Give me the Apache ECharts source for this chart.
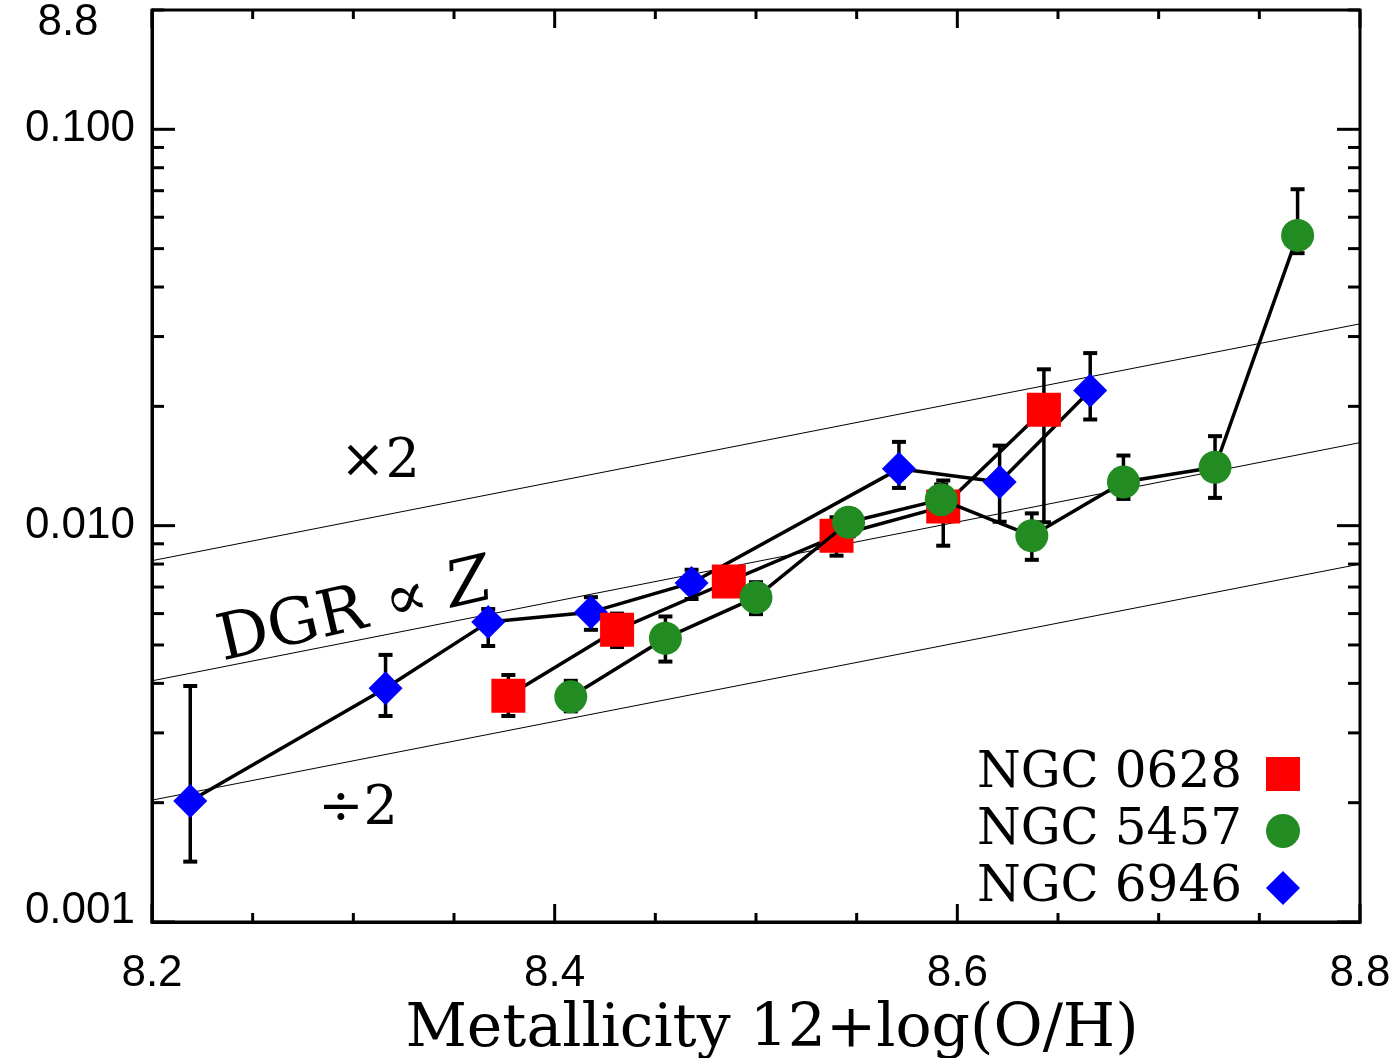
<!DOCTYPE html>
<html><head><meta charset="utf-8">
<script src="https://cdn.jsdelivr.net/npm/echarts@6/dist/echarts.min.js"></script>
<style>html,body{margin:0;padding:0;background:#fff}#c{width:1394px;height:1058px}</style>
</head><body><div id="c"></div>
<script>
// ---- data ----
const ngc0628X   = [8.377, 8.431, 8.4865, 8.540, 8.593, 8.643];
const ngc0628Y   = [0.00372, 0.00546, 0.00723, 0.00943, 0.01117, 0.0196];
const ngc0628Lo  = [0.00331, 0.00494, 0.0067, 0.0084, 0.0089, 0.0102];
const ngc0628Hi  = [0.0042, 0.0060, 0.0078, 0.0105, 0.0130, 0.0248];

const ngc5457X   = [8.408, 8.455, 8.500, 8.546, 8.592, 8.637, 8.6825, 8.728, 8.769];
const ngc5457Y   = [0.0037, 0.0052, 0.00659, 0.0102, 0.01163, 0.00943, 0.01288, 0.01404, 0.054];
const ngc5457Lo  = [0.0034, 0.00454, 0.00598, 0.0094, 0.0107, 0.0082, 0.01168, 0.01175, 0.0487];
const ngc5457Hi  = [0.00406, 0.0059, 0.0072, 0.0110, 0.0127, 0.01074, 0.01503, 0.01682, 0.0706];

const ngc6946X   = [8.219, 8.316, 8.367, 8.418, 8.468, 8.571, 8.621, 8.666];
const ngc6946Y   = [0.00202, 0.00389, 0.00571, 0.00605, 0.00717, 0.01391, 0.01289, 0.02192];
const ngc6946Lo  = [0.00142, 0.00331, 0.00497, 0.00546, 0.00653, 0.01245, 0.01023, 0.01853];
const ngc6946Hi  = [0.00394, 0.00472, 0.00616, 0.0066, 0.00774, 0.01627, 0.01592, 0.02725];

// reference lines (end points)
const refX     = [8.2, 8.8];
const refMid   = [0.00406, 0.0162];
const refUpper = [0.00816, 0.0323];
const refLower = [0.00203, 0.0080];

const seriesNames = ['NGC 0628', 'NGC 5457', 'NGC 6946'];
const xTickLabels = [8.2, 8.4, 8.6, 8.8];
const xMinorTicks = [8.25, 8.3, 8.35, 8.45, 8.5, 8.55, 8.65, 8.7, 8.75];
const yMajorTicks = [0.001, 0.01, 0.1];
const yMinorTicks = [0.002,0.003,0.004,0.005,0.006,0.007,0.008,0.009,
                     0.02,0.03,0.04,0.05,0.06,0.07,0.08,0.09,0.2];

// ---- helpers ----
const zip2 = (a, b) => a.map((v, i) => [v, b[i]]);
const zip3 = (a, b, c) => a.map((v, i) => [v, b[i], c[i]]);

function errRender(params, api) {
  const x = api.value(0), lo = api.value(1), hi = api.value(2);
  const p1 = api.coord([x, lo]), p2 = api.coord([x, hi]);
  const w = 7;
  const st = {stroke: '#000', lineWidth: 3.5};
  const cs = {stroke: '#000', lineWidth: 4};
  return {type: 'group', children: [
    {type: 'line', shape: {x1: p1[0], y1: p1[1], x2: p2[0], y2: p2[1]}, style: st},
    {type: 'line', shape: {x1: p1[0]-w, y1: p1[1], x2: p1[0]+w, y2: p1[1]}, style: cs},
    {type: 'line', shape: {x1: p2[0]-w, y1: p2[1], x2: p2[0]+w, y2: p2[1]}, style: cs}
  ]};
}

function tickRender(params, api) {
  const ch = [];
  const st = {stroke: '#000', lineWidth: 3};
  const addX = (x, len) => {
    const b = api.coord([x, 0.001]), t = api.coord([x, 0.2]);
    ch.push({type: 'line', shape: {x1: b[0], y1: b[1], x2: b[0], y2: b[1]-len}, style: st});
    ch.push({type: 'line', shape: {x1: t[0], y1: t[1], x2: t[0], y2: t[1]+len}, style: st});
  };
  const addY = (y, len) => {
    const l = api.coord([8.2, y]), r = api.coord([8.8, y]);
    ch.push({type: 'line', shape: {x1: l[0], y1: l[1], x2: l[0]+len, y2: l[1]}, style: st});
    ch.push({type: 'line', shape: {x1: r[0], y1: r[1], x2: r[0]-len, y2: r[1]}, style: st});
  };
  xTickLabels.forEach(v => addX(v, 18));
  xMinorTicks.forEach(v => addX(v, 9));
  yMajorTicks.forEach(v => addY(v, 23));
  yMinorTicks.forEach(v => addY(v, 12));
  return {type: 'group', children: ch};
}

const thin = {color: '#000', width: 1};
function refLine(vals) {
  return {type: 'line', data: zip2(refX, vals), symbol: 'none', silent: true,
          lineStyle: thin, z: 1, legendHoverLink: false};
}
function dataLine(name, xs, ys, sym, size, color, z) {
  return {name, type: 'line', data: zip2(xs, ys), symbol: sym, symbolSize: size,
          itemStyle: {color, borderWidth: 0}, lineStyle: {color: '#000', width: 3.5},
          z, animation: false};
}
function errSeries(xs, lo, hi) {
  return {type: 'custom', renderItem: errRender, data: zip3(xs, lo, hi),
          encode: {x: 0, y: [1, 2]}, z: 2, silent: true, clip: false};
}

const tickFont = 'Liberation Sans';
const chart = echarts.init(document.getElementById('c'));
chart.setOption({
  animation: false,
  backgroundColor: '#fff',
  grid: {left: 152, right: 34, top: 10, bottom: 136, show: true,
         borderColor: '#000', borderWidth: 3, containLabel: false,
         outerBoundsMode: 'none'},
  xAxis: {
    type: 'value', min: 8.2, max: 8.8, interval: 0.2,
    axisLine: {show: true, lineStyle: {color: '#000', width: 3}},
    axisTick: {show: false}, splitLine: {show: false},
    axisLabel: {formatter: v => v.toFixed(1), fontFamily: tickFont,
                fontSize: 44, color: '#000', margin: 30},
    name: 'Metallicity 12+log(O/H)', nameLocation: 'middle', nameGap: 76,
    nameTextStyle: {fontFamily: 'DejaVu Serif', fontSize: 60, color: '#000',
                    padding: [0, 0, 0, 32]}
  },
  yAxis: {
    type: 'log', logBase: 10, min: 0.001, max: 0.2,
    axisLine: {show: true, lineStyle: {color: '#000', width: 3}},
    axisTick: {show: false}, splitLine: {show: false}, minorTick: {show: false},
    axisLabel: {
      fontFamily: tickFont, fontSize: 44, color: '#000', margin: 17,
      formatter: v => {
        const l = Math.log10(v);
        if (Math.abs(l - Math.round(l)) > 1e-6) return '';
        const s = Number(v).toFixed(3);
        return s === '0.001' ? '{lo|' + s + '}' : s;
      },
      rich: {lo: {fontFamily: tickFont, fontSize: 44, color: '#000', padding: [0, 0, 22, 0]}}
    }
  },
  legend: {
    data: [{name: seriesNames[0], icon: 'rect'},
           {name: seriesNames[1], icon: 'circle'},
           {name: seriesNames[2], icon: 'diamond'}],
    orient: 'vertical', align: 'right', right: 94, top: 748, padding: 0,
    itemWidth: 34, itemHeight: 34, itemGap: 5,
    itemStyle: {borderWidth: 0},
    textStyle: {fontFamily: 'DejaVu Serif', fontSize: 50, color: '#000',
                lineHeight: 52, padding: [0, 19, 0, 0]},
    selectedMode: false
  },
  graphic: [
    {type: 'text', x: 68, y: 23, style: {text: '8.8', fontFamily: tickFont, fontSize: 44,
      fill: '#000', align: 'center', verticalAlign: 'middle'}},
    {type: 'text', x: 380, y: 463, style: {text: '×2', fontFamily: 'DejaVu Serif', fontSize: 54,
      fill: '#000', align: 'center', verticalAlign: 'middle'}},
    {type: 'text', x: 358, y: 810, style: {text: '÷2', fontFamily: 'DejaVu Serif', fontSize: 54,
      fill: '#000', align: 'center', verticalAlign: 'middle'}},
    {type: 'text', x: 355, y: 613, rotation: 13 * Math.PI / 180,
      style: {text: 'DGR ∝ {i|Z}', fontFamily: 'DejaVu Serif', fontSize: 64, fill: '#000',
        align: 'center', verticalAlign: 'middle',
        rich: {i: {fontFamily: 'DejaVu Serif', fontSize: 64, fontStyle: 'italic', fill: '#000'}}}}
  ],
  series: [
    refLine(refUpper), refLine(refMid), refLine(refLower),
    errSeries(ngc6946X, ngc6946Lo, ngc6946Hi),
    errSeries(ngc0628X, ngc0628Lo, ngc0628Hi),
    errSeries(ngc5457X, ngc5457Lo, ngc5457Hi),
    dataLine(seriesNames[2], ngc6946X, ngc6946Y, 'diamond', 34, '#0000ff', 3),
    dataLine(seriesNames[0], ngc0628X, ngc0628Y, 'rect', 34, '#ff0000', 4),
    dataLine(seriesNames[1], ngc5457X, ngc5457Y, 'circle', 33, '#228b22', 5),
    {type: 'custom', renderItem: tickRender, data: [[8.5, 0.01]], encode: {x: 0, y: 1},
     silent: true, clip: false, z: 6}
  ]
});
</script>
</body></html>
